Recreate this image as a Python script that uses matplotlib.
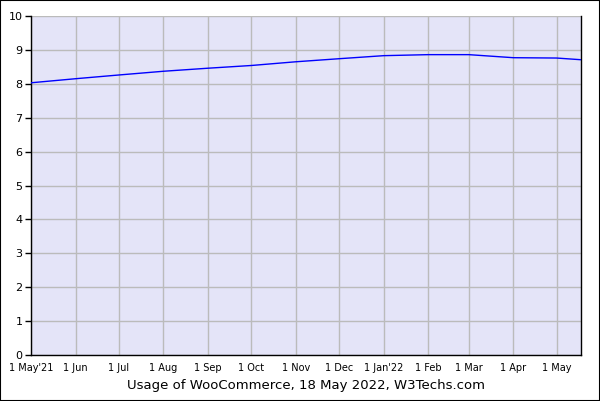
import matplotlib
matplotlib.use("Agg")
import matplotlib.pyplot as plt
import datetime as dt
from matplotlib.patches import Rectangle

dates = ["2021-05-01", "2021-06-01", "2021-07-01", "2021-08-01", "2021-09-01",
         "2021-10-01", "2021-11-01", "2021-12-01", "2022-01-01", "2022-02-01",
         "2022-03-01", "2022-04-01", "2022-05-01", "2022-05-18"]
values = [8.03, 8.15, 8.26, 8.37, 8.46, 8.54, 8.65, 8.74, 8.83, 8.86,
          8.86, 8.77, 8.76, 8.71]
tick_dates = ["2021-05-01", "2021-06-01", "2021-07-01", "2021-08-01", "2021-09-01",
              "2021-10-01", "2021-11-01", "2021-12-01", "2022-01-01", "2022-02-01",
              "2022-03-01", "2022-04-01", "2022-05-01"]
tick_labels = ["1 May'21", "1 Jun", "1 Jul", "1 Aug", "1 Sep", "1 Oct", "1 Nov",
               "1 Dec", "1 Jan'22", "1 Feb", "1 Mar", "1 Apr", "1 May"]
yticks = list(range(0, 11))
title = "Usage of WooCommerce, 18 May 2022, W3Techs.com"

x = [dt.datetime.strptime(d, "%Y-%m-%d") for d in dates]
xt = [dt.datetime.strptime(d, "%Y-%m-%d") for d in tick_dates]

fig = plt.figure(figsize=(6, 4.01), dpi=100)
W, H = 600, 401
ax = fig.add_axes([31 / W, (H - 355) / H, (581 - 31) / W, (355 - 16) / H])
ax.set_facecolor("#E4E4F8")
ax.plot(x, values, color="#0000FF", lw=1.0, zorder=3)
ax.set_xlim(x[0], x[-1])
ax.set_ylim(0, 10)
ax.set_yticks(yticks)
ax.set_yticklabels([str(v) for v in yticks], fontsize=8)
ax.set_xticks(xt)
ax.set_xticklabels(tick_labels, fontsize=7)
ax.grid(True, color="#BBBBBB", lw=1.0, zorder=1)
ax.set_axisbelow(True)
ax.tick_params(axis="y", length=4, width=1, pad=2, color="black")
ax.tick_params(axis="x", length=0, pad=5.5)
for s in ["left", "bottom", "right"]:
    ax.spines[s].set_color("black")
    ax.spines[s].set_linewidth(1.0)
ax.spines["top"].set_visible(False)
fig.text(0.5 * (31 + 581) / W, 1 - 386 / H, title, ha="center", va="center",
         fontsize=9.5, family="DejaVu Sans")
fig.patches.append(Rectangle((0, 0), 1, 1, transform=fig.transFigure,
                             fill=False, edgecolor="black", lw=1.5))
fig.savefig("out.png", dpi=100)
